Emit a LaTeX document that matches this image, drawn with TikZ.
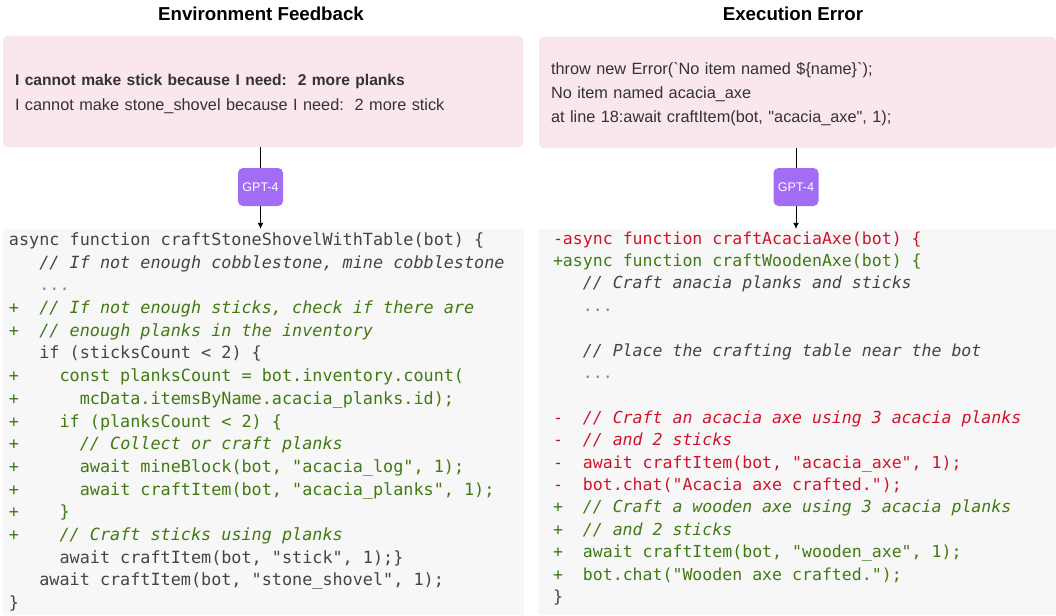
\documentclass[tikz,border=0pt]{standalone}
\usepackage{fontspec}
\setmainfont{Liberation Sans}
\setmonofont{DejaVu Sans Mono}
\usepackage{xcolor}
\usepackage{tikz}
\usetikzlibrary{arrows.meta,positioning}

\definecolor{pinkbg}{HTML}{FAE6EE}
\definecolor{codebg}{HTML}{F7F7F7}
\definecolor{gptpurple}{HTML}{A26DF4}
\definecolor{addgreen}{HTML}{417A12}
\definecolor{delred}{HTML}{D0132D}
\definecolor{codegray}{HTML}{444444}
\definecolor{dotgray}{HTML}{888888}
\definecolor{msggray}{HTML}{333333}

\newcommand\pad[1]{\hspace*{#1\dimexpr0.602em\relax}}
\newcommand\monosp{\spaceskip=0.602em\relax\xspaceskip=0.602em\relax}
\newcommand\addl[1]{\textcolor{addgreen}{#1}}
\newcommand\dell[1]{\textcolor{delred}{#1}}
\newcommand\cmt[1]{\textit{#1}}
\newcommand\ellip{\textcolor{dotgray}{...}}

\tikzset{
  title/.style={font=\fontsize{18.7}{20}\selectfont\bfseries},
  msgbox/.style={fill=pinkbg, rounded corners=4pt, align=left, inner xsep=12pt,
    text=msggray},
  gpt/.style={fill=gptpurple, rounded corners=5pt, text=white, minimum width=45pt,
    minimum height=38pt, inner sep=0pt, font=\fontsize{12.5}{14}\selectfont},
  codebox/.style={fill=codebg, align=left, inner ysep=0pt, text=codegray},
  link/.style={line width=0.9pt},
  arr/.style={link, -{Latex[length=6pt,width=6pt]}}
}

\begin{document}
\begin{tikzpicture}[x=1pt,y=-1pt]
\useasboundingbox[fill=white] (0,0) rectangle (1056,615);

% titles
\node[title] (titleL) at (261,14) {Environment Feedback};
\node[title] (titleR) at (793,14) {Execution Error};

% environment feedback side
\node[msgbox, text width=496pt, minimum height=111pt,
  font=\fontsize{16.3}{25}\selectfont] (feedback) at (263,91.5)
  {\rule{0pt}{15.5pt}{\fontsize{15.6}{25}\selectfont\bfseries I cannot make stick because I need:\ \ 2 more planks}\\
   I cannot make stone\_shovel because I need:\ \ 2 more stick};
\node[gpt] (gptL) at (260.5,187) {GPT-4};
\node[codebox, text width=509pt, inner xsep=6pt, minimum height=386pt,
  font=\fontsize{16.8}{22.7}\selectfont\ttfamily] (codeL) at (263.5,422)
  {\monosp async function craftStoneShovelWithTable(bot) \{\\
   \pad{3}\cmt{// If not enough cobblestone, mine cobblestone}\\
   \pad{3}\ellip\\
   \addl{+\pad{2}\cmt{// If not enough sticks, check if there are}}\\
   \addl{+\pad{2}\cmt{// enough planks in the inventory}}\\
   \pad{3}if (sticksCount < 2) \{\\
   \addl{+\pad{4}const planksCount = bot.inventory.count(}\\
   \addl{+\pad{6}mcData.itemsByName.acacia\_planks.id);}\\
   \addl{+\pad{4}if (planksCount < 2) \{}\\
   \addl{+\pad{6}\cmt{// Collect or craft planks}}\\
   \addl{+\pad{6}await mineBlock(bot, "acacia\_log", 1);}\\
   \addl{+\pad{6}await craftItem(bot, "acacia\_planks", 1);}\\
   \addl{+\pad{4}\}}\\
   \addl{+\pad{4}\cmt{// Craft sticks using planks}}\\
   \pad{5}await craftItem(bot, "stick", 1);\}\\
   \pad{3}await craftItem(bot, "stone\_shovel", 1);\\
   \}};

% execution error side
\node[msgbox, text width=493pt, minimum height=111pt,
  font=\fontsize{16.3}{24}\selectfont] (error) at (797.5,92.5)
  {\rule{0pt}{15.5pt}throw new Error(\textasciigrave No item named \$\{name\}\textasciigrave);\\
   No item named acacia\_axe\\
   at line 18:await craftItem(bot, \textquotedbl acacia\_axe\textquotedbl, 1);};
\node[gpt] (gptR) at (796,187) {GPT-4};
\node[codebox, text width=488pt, inner xsep=15pt, minimum height=386pt,
  font=\fontsize{16.55}{22.4}\selectfont\ttfamily] (codeR) at (797,422)
  {\monosp\dell{-async function craftAcaciaAxe(bot) \{}\\
   \addl{+async function craftWoodenAxe(bot) \{}\\
   \pad{3}\cmt{// Craft anacia planks and sticks}\\
   \pad{3}\ellip\\
   \mbox{}\\
   \pad{3}\cmt{// Place the crafting table near the bot}\\
   \pad{3}\ellip\\
   \mbox{}\\
   \dell{-\pad{2}\cmt{// Craft an acacia axe using 3 acacia planks}}\\
   \dell{-\pad{2}\cmt{// and 2 sticks}}\\
   \dell{-\pad{2}await craftItem(bot, "acacia\_axe", 1);}\\
   \dell{-\pad{2}bot.chat("Acacia axe crafted.");}\\
   \addl{+\pad{2}\cmt{// Craft a wooden axe using 3 acacia planks}}\\
   \addl{+\pad{2}\cmt{// and 2 sticks}}\\
   \addl{+\pad{2}await craftItem(bot, "wooden\_axe", 1);}\\
   \addl{+\pad{2}bot.chat("Wooden axe crafted.");}\\
   \}\rule[-10pt]{0pt}{0pt}};

% connectors
\draw[link] (feedback.south -| gptL) -- (gptL);
\draw[arr] (gptL) -- (codeL.north -| gptL);
\draw[link] (error.south -| gptR) -- (gptR);
\draw[arr] (gptR) -- (codeR.north -| gptR);
\end{tikzpicture}
\end{document}
